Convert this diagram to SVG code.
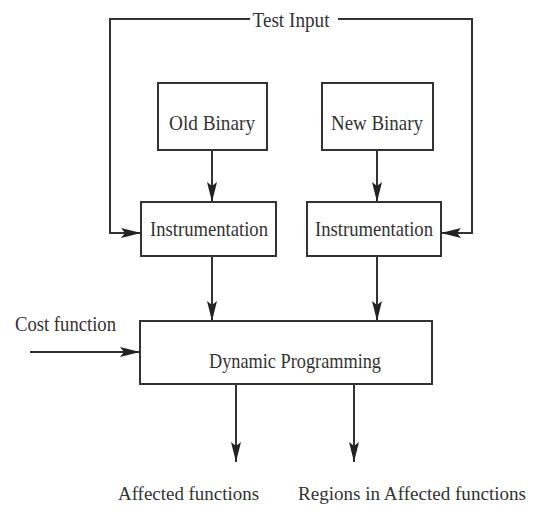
<svg xmlns="http://www.w3.org/2000/svg" width="534" height="509" viewBox="0 0 534 509">
<defs>
<marker id="ah" viewBox="0 0 20 10" refX="20" refY="5" markerWidth="20" markerHeight="10" markerUnits="userSpaceOnUse" orient="auto">
<path d="M0,0 L20,5 L0,10 L4,5 Z" fill="#222"/>
</marker>
</defs>
<style>
.box{fill:#fff;stroke:#333;stroke-width:2}
.ln{fill:none;stroke:#333;stroke-width:2}
text{font-family:"Liberation Serif","Times New Roman",serif;font-size:21px;fill:#333}
.c{text-anchor:middle}
.s{font-size:19px}
</style>
<rect width="534" height="509" fill="#fff"/>
<g id="connectors">
<polyline class="ln" points="250,19 110,19 110,233 141,233" marker-end="url(#ah)"/>
<polyline class="ln" points="338,19 472,19 472,233 441,233" marker-end="url(#ah)"/>
<line class="ln" x1="212" y1="150" x2="212" y2="202" marker-end="url(#ah)"/>
<line class="ln" x1="377" y1="150" x2="377" y2="202" marker-end="url(#ah)"/>
<line class="ln" x1="212" y1="256" x2="212" y2="321" marker-end="url(#ah)"/>
<line class="ln" x1="377" y1="256" x2="377" y2="321" marker-end="url(#ah)"/>
<line class="ln" x1="30" y1="352" x2="140" y2="352" marker-end="url(#ah)"/>
<line class="ln" x1="236" y1="384" x2="236" y2="462" marker-end="url(#ah)"/>
<line class="ln" x1="354" y1="384" x2="354" y2="462" marker-end="url(#ah)"/>
</g>
<g id="test-input"><text class="c" x="291" y="27" textLength="77" lengthAdjust="spacingAndGlyphs">Test Input</text></g>
<g id="old-binary"><rect class="box" x="158" y="83" width="109" height="67"/><text class="c" x="212" y="130" textLength="86" lengthAdjust="spacingAndGlyphs">Old Binary</text></g>
<g id="new-binary"><rect class="box" x="322" y="83" width="111" height="67"/><text class="c" x="377" y="130" textLength="92" lengthAdjust="spacingAndGlyphs">New Binary</text></g>
<g id="instr-left"><rect class="box" x="141" y="202" width="135" height="54"/><text class="c" x="209" y="236" textLength="118" lengthAdjust="spacingAndGlyphs">Instrumentation</text></g>
<g id="instr-right"><rect class="box" x="307" y="202" width="134" height="54"/><text class="c" x="374" y="236" textLength="118" lengthAdjust="spacingAndGlyphs">Instrumentation</text></g>
<g id="cost-function"><text x="15" y="331" textLength="101" lengthAdjust="spacingAndGlyphs">Cost function</text></g>
<g id="dp"><rect class="box" x="140" y="321" width="292" height="63"/><text class="c" x="295" y="368" textLength="172" lengthAdjust="spacingAndGlyphs">Dynamic Programming</text></g>
<g id="affected"><text class="s" x="118" y="500" textLength="141" lengthAdjust="spacingAndGlyphs">Affected functions</text></g>
<g id="regions"><text class="s" x="298" y="500" textLength="228" lengthAdjust="spacingAndGlyphs">Regions in Affected functions</text></g>
</svg>
